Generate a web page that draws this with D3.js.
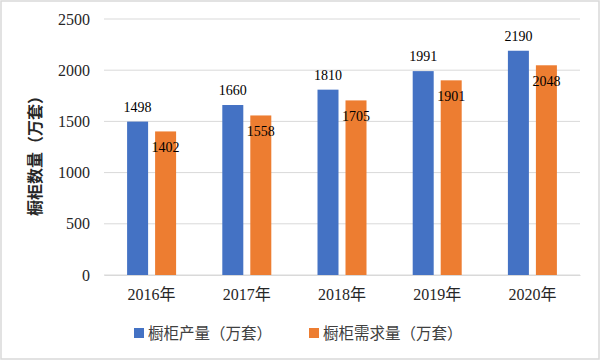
<!DOCTYPE html>
<head>
<meta charset="utf-8">
<script src="https://d3js.org/d3.v7.min.js"></script>
</head>
<body style="margin:0">
<div id="viz"></div>
<script>
// data
var years = ["2016年", "2017年", "2018年", "2019年", "2020年"];
var production = [1498, 1660, 1810, 1991, 2190];
var demand = [1402, 1558, 1705, 1901, 2048];
var seriesNames = ["橱柜产量（万套）", "橱柜需求量（万套）"];
var yTicks = [0, 500, 1000, 1500, 2000, 2500];
var colors = ["#4472C4", "#ED7D31"];

var SERIF = "'Liberation Serif', 'Noto Sans CJK SC', serif";
var SANS = "'Noto Sans CJK SC', sans-serif";

var W = 600, H = 360;
var margin = {top: 19, right: 20, bottom: 85, left: 104};
var width = W - margin.left - margin.right,
    height = H - margin.top - margin.bottom;

var root = d3.select("#viz").append("svg")
  .attr("width", W).attr("height", H);

// outer frame
root.append("rect")
  .attr("x", 1).attr("y", 1)
  .attr("width", W - 2).attr("height", H - 2)
  .attr("fill", "#fff")
  .attr("stroke", "#d9d9d9")
  .attr("stroke-width", 1.5);

var svg = root.append("g")
  .attr("transform", "translate(" + margin.left + "," + margin.top + ")");

var x = d3.scaleBand().domain(years).range([0, width]);
var y = d3.scaleLinear().domain([0, 2500]).range([height, 0]);

// gridlines
svg.selectAll(".grid").data(yTicks).enter().append("line")
  .attr("x1", 0).attr("x2", width)
  .attr("y1", function(d) { return y(d); })
  .attr("y2", function(d) { return y(d); })
  .attr("stroke", "#d9d9d9")
  .attr("stroke-width", 1);

// y axis labels
var yAxis = svg.append("g")
  .call(d3.axisLeft(y).tickValues(yTicks).tickFormat(d3.format("d")).tickSize(0).tickPadding(14));
yAxis.select(".domain").remove();
yAxis.selectAll("text")
  .style("font-family", SERIF).style("font-size", "16px").attr("fill", "#262626");

// x axis labels
var xAxis = svg.append("g")
  .attr("transform", "translate(0," + height + ")")
  .call(d3.axisBottom(x).tickSize(0).tickPadding(14));
xAxis.select(".domain").attr("stroke", "#d9d9d9");
xAxis.selectAll("text")
  .style("font-family", SERIF).style("font-size", "16px").attr("fill", "#262626");

var barW = 21, gap = 7;
var groups = [production, demand];

groups.forEach(function(vals, i) {
  var off = i === 0 ? -(gap / 2 + barW) : gap / 2;
  svg.selectAll(".bar" + i).data(vals).enter().append("rect")
    .attr("x", function(d, j) { return x(years[j]) + x.bandwidth() / 2 + off; })
    .attr("y", function(d) { return y(d); })
    .attr("width", barW)
    .attr("height", function(d) { return height - y(d); })
    .attr("fill", colors[i]);

  svg.selectAll(".lab" + i).data(vals).enter().append("text")
    .attr("x", function(d, j) { return x(years[j]) + x.bandwidth() / 2 + off + barW / 2; })
    .attr("y", function(d) { return i === 0 ? y(d) - 10 : y(d) + 21; })
    .attr("text-anchor", "middle")
    .style("font-family", SERIF)
    .style("font-size", "14px")
    .attr("fill", "#000")
    .text(function(d) { return d; });
});

// y axis title
root.append("text")
  .attr("transform", "translate(41,152) rotate(-90)")
  .attr("text-anchor", "middle")
  .style("font-family", SANS)
  .style("font-size", "16px")
  .attr("font-weight", "bold")
  .attr("fill", "#262626")
  .text("橱柜数量（万套）");

// legend
var legX = [134, 309];
seriesNames.forEach(function(name, i) {
  root.append("rect")
    .attr("x", legX[i]).attr("y", 328)
    .attr("width", 10).attr("height", 10)
    .attr("fill", colors[i]);
  root.append("text")
    .attr("x", legX[i] + 14).attr("y", 338.5)
    .style("font-family", SANS)
    .style("font-size", "15.5px")
    .attr("fill", "#404040")
    .text(name);
});
</script>
</body>
